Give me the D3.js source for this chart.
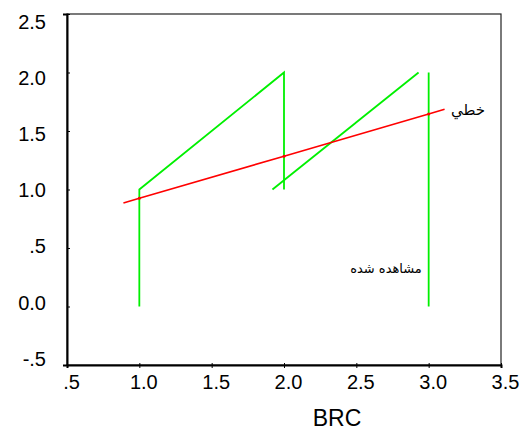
<!DOCTYPE html>
<html>
<head>
<meta charset="utf-8">
<script src="https://cdn.jsdelivr.net/npm/d3@7"></script>
<style>
  body { margin: 0; background: #fff; }
  svg text { font-family: "Liberation Sans", Arial, sans-serif; fill: #000; }
  .ar { font-family: "DejaVu Sans", sans-serif; }
</style>
</head>
<body>
<svg id="chart"></svg>
<script>
var width = 524;
var height = 431;

// observed (green) - drawn as separate segments
var observedSegments = [
    [[1.0, 0.0], [1.0, 1.0], [2.0, 2.0], [2.0, 1.0]],
    [[1.92, 1.0], [2.93, 2.0]],
    [[3.0, 0.0], [3.0, 2.0]]
];

// linear fit (red)
var linearX = [0.89, 1.0, 2.0, 3.0, 3.11];
var linearY = [0.885, 0.925, 1.285, 1.645, 1.685];

var xTicks = [0.5, 1.0, 1.5, 2.0, 2.5, 3.0, 3.5];
var xTickLabels = ['.5', '1.0', '1.5', '2.0', '2.5', '3.0', '3.5'];
var yTicks = [-0.5, 0.0, 0.5, 1.0, 1.5, 2.0, 2.5];
var yTickLabels = ['-.5', '0.0', '.5', '1.0', '1.5', '2.0', '2.5'];

var xLabel = 'BRC';
var linearLabel = 'خطي';
var observedLabel = 'مشاهده شده';

var plotLeft = 67, plotRight = 501, plotTop = 14, plotBottom = 365;

var xs = d3.scaleLinear().domain([0.5, 3.5]).range([plotLeft, plotRight]);
var ys = d3.scaleLinear().domain([-0.5, 2.5]).range([plotBottom, plotTop]);
// the y tick labels sit on a slightly tighter spacing than the ticks
var yLab = d3.scaleLinear().domain([-0.5, 2.5]).range([358, 21]);

var svg = d3.select('#chart')
    .attr('width', width)
    .attr('height', height);

// frame
svg.append('rect')
    .attr('x', plotLeft)
    .attr('y', plotTop)
    .attr('width', plotRight - plotLeft)
    .attr('height', plotBottom - plotTop)
    .attr('fill', 'none')
    .attr('stroke', '#222')
    .attr('stroke-width', 1.2);

// left axis
var yAxis = svg.append('g')
    .attr('transform', 'translate(' + plotLeft + ',0)')
    .call(d3.axisLeft(ys).tickValues(yTicks).tickSize(4).tickFormat(function (d, i) { return yTickLabels[i]; }));
yAxis.select('.domain').attr('stroke', '#000').attr('stroke-width', 2);
yAxis.selectAll('.tick line').attr('stroke', '#000').attr('x2', 3);
yAxis.selectAll('.tick text')
    .attr('x', -21)
    .attr('y', function (d) { return yLab(d) - ys(d); })
    .attr('dy', '0.36em')
    .style('font-size', '20px')
    .style('font-family', '"Liberation Sans", Arial, sans-serif');

// bottom axis
var xAxis = svg.append('g')
    .attr('transform', 'translate(0,' + plotBottom + ')')
    .call(d3.axisBottom(xs).tickValues(xTicks).tickSize(3).tickFormat(function (d, i) { return xTickLabels[i]; }));
xAxis.select('.domain').attr('stroke', '#000').attr('stroke-width', 2);
xAxis.selectAll('.tick line').attr('stroke', '#000').attr('y1', -2);
xAxis.selectAll('.tick text')
    .attr('y', 24)
    .attr('dy', 0)
    .attr('dx', 4)
    .style('font-size', '20px')
    .style('font-family', '"Liberation Sans", Arial, sans-serif');

svg.append('text')
    .attr('x', 337)
    .attr('y', 426)
    .attr('text-anchor', 'middle')
    .style('font-size', '23px')
    .text(xLabel);

var line = d3.line()
    .x(function (d) { return xs(d[0]); })
    .y(function (d) { return ys(d[1]); });

// observed
svg.append('g').selectAll('path')
    .data(observedSegments)
    .enter()
    .append('path')
    .attr('d', line)
    .attr('fill', 'none')
    .attr('stroke', '#00f000')
    .attr('stroke-width', 1.8);

// linear
var linearPts = linearX.map(function (x, i) { return [x, linearY[i]]; });
svg.append('path')
    .datum(linearPts)
    .attr('d', line)
    .attr('fill', 'none')
    .attr('stroke', '#ff0000')
    .attr('stroke-width', 1.6);

svg.append('g').selectAll('circle')
    .data(linearPts.slice(1, 4))
    .enter()
    .append('circle')
    .attr('cx', function (d) { return xs(d[0]); })
    .attr('cy', function (d) { return ys(d[1]); })
    .attr('r', 1.5)
    .attr('fill', '#ff0000');

svg.append('text')
    .attr('class', 'ar')
    .attr('x', 468)
    .attr('y', 115)
    .attr('text-anchor', 'middle')
    .style('font-size', '15px')
    .text(linearLabel);

svg.append('text')
    .attr('class', 'ar')
    .attr('x', 386)
    .attr('y', 273)
    .attr('text-anchor', 'middle')
    .style('font-size', '13px')
    .text(observedLabel);
</script>
</body>
</html>
